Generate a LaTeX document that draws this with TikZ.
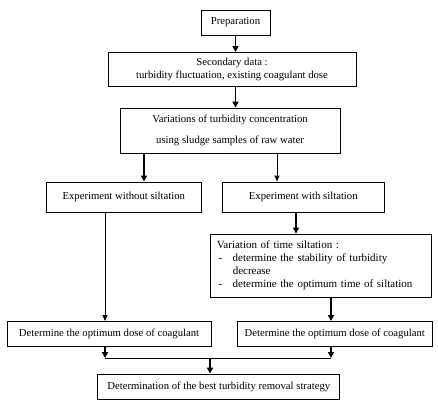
\documentclass[tikz,border=0pt]{standalone}
\usepackage{fontspec}
\setmainfont{Liberation Serif}
\usetikzlibrary{arrows.meta,calc}
\begin{document}
\begin{tikzpicture}[x=1pt,y=-1pt,
 box/.style={draw,line width=0.9pt,inner sep=0pt,align=center,font=\fontsize{10.7}{13}\selectfont},
 thk/.style={line width=1.8pt,-{Triangle[width=6pt,length=6pt]}},
 thn/.style={line width=0.8pt,-{Triangle[width=5pt,length=6pt]}},
 plain/.style={line width=0.8pt}]
\useasboundingbox (0,0) rectangle (438,405);
\node[box,minimum width=69pt,minimum height=25pt] (prep) at (235.5,22.5) {Preparation};
\node[box,minimum width=248pt,minimum height=34pt] (sec) at (232,69.5) {Secondary data :\\turbidity fluctuation, existing coagulant dose};
\node[box,minimum width=220pt,minimum height=45pt] (var) at (230,130.5) {Variations of turbidity concentration\\[8pt]using sludge samples of raw water};
\node[box,minimum width=155.5pt,minimum height=30pt] (expA) at (123.75,197) {Experiment without siltation};
\node[box,minimum width=161.5pt,minimum height=30pt] (expB) at (303.25,197) {Experiment with siltation};
\node[box,minimum width=220.5pt,minimum height=63pt,align=left,text width=208pt,inner xsep=6pt,font=\fontsize{11}{13}\selectfont] (vt) at (320.75,265.5) {Variation of time siltation :\\
\makebox[16pt][l]{\,-}determine the stability of turbidity\\
\hspace*{16pt}decrease\\
\makebox[16pt][l]{\,-}determine the optimum time of siltation};
\node[box,minimum width=204pt,minimum height=25pt] (detA) at (109,334) {Determine the optimum dose of coagulant};
\node[box,minimum width=194.5pt,minimum height=25pt] (detB) at (334.75,334) {Determine the optimum dose of coagulant};
\node[box,minimum width=242pt,minimum height=25pt] (fin) at (218.75,386.5) {Determination of the best turbidity removal strategy};
\coordinate (xA) at (144,0);
\coordinate (xB) at (277,0);
\coordinate (xC) at (296,0);
\coordinate (xD) at (105,0);
\coordinate (xE) at (331,0);
\coordinate (jL) at (105,358);
\coordinate (jR) at (331,358);
\coordinate (jM) at (210,358);
\draw[thk] (prep.south) -- (prep.south |- sec.north);
\draw[thk] (prep.south |- sec.south) -- (prep.south |- var.north);
\draw[thk] (xA |- var.south) -- (xA |- expA.north);
\draw[thn] (xB |- var.south) -- (xB |- expB.north);
\draw[thk] (xC |- expB.south) -- (xC |- vt.north);
\draw[thn] (xD |- expA.south) -- (xD |- detA.north);
\draw[thk] (xE |- vt.south) -- (xE |- detB.north);
\draw[thk] (xD |- detA.south) -- (jL);
\draw[thk] (xE |- detB.south) -- (jR);
\draw[plain] (jL) -- (jR);
\draw[thk] (jM) -- (jM |- fin.north);
\end{tikzpicture}
\end{document}
